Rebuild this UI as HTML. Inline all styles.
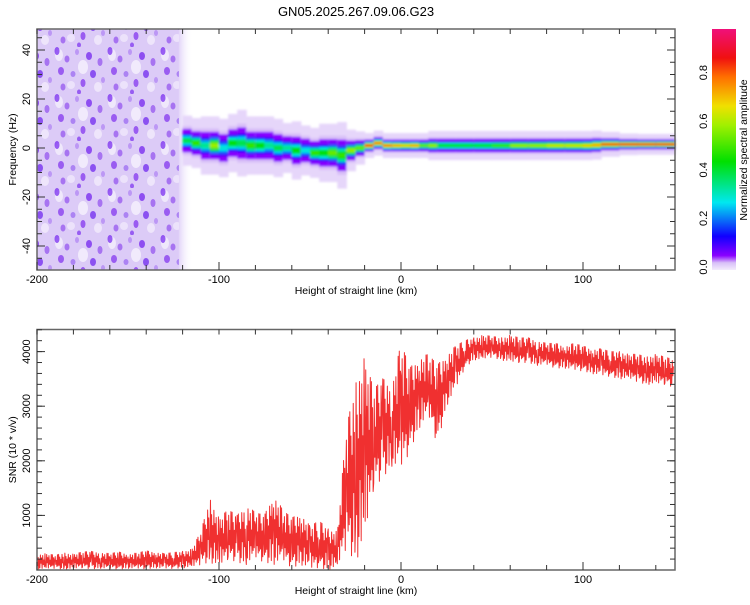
<!DOCTYPE html>
<html><head><meta charset="utf-8"><style>
body{margin:0;background:#fff;width:750px;height:600px;overflow:hidden}
svg text{font-family:"Liberation Sans",sans-serif;fill:#000}
</style></head><body>
<svg id="c" width="750" height="600">
<defs>
<linearGradient id="cb" x1="0" y1="1" x2="0" y2="0">
<stop offset="0" stop-color="#f3ecfc"/><stop offset="0.03" stop-color="#d8bff8"/><stop offset="0.06" stop-color="#8a00ff"/>
<stop offset="0.14" stop-color="#1000ff"/><stop offset="0.28" stop-color="#00e8f0"/><stop offset="0.45" stop-color="#00e000"/>
<stop offset="0.6" stop-color="#a0f000"/><stop offset="0.68" stop-color="#f0e000"/><stop offset="0.8" stop-color="#ff7000"/>
<stop offset="0.88" stop-color="#f01010"/><stop offset="1" stop-color="#f0107a"/></linearGradient>
<pattern id="noise" width="53" height="47" patternUnits="userSpaceOnUse">
<rect width="53" height="47" fill="#dccbf7"/>
<ellipse cx="6" cy="8" rx="4" ry="6" fill="#fff" opacity="0.55"/>
<ellipse cx="30" cy="20" rx="5" ry="7" fill="#fff" opacity="0.6"/>
<ellipse cx="45" cy="40" rx="4" ry="5" fill="#fff" opacity="0.5"/>
<ellipse cx="18" cy="38" rx="4" ry="4" fill="#fff" opacity="0.45"/>
<ellipse cx="4" cy="4" rx="2.5" ry="4" fill="#7a2ef0" opacity="0.75"/>
<ellipse cx="14" cy="12" rx="2.5" ry="3.5" fill="#9a5cf0" opacity="0.8"/>
<ellipse cx="24" cy="5" rx="2" ry="3" fill="#b48af5" opacity="0.8"/>
<ellipse cx="36" cy="9" rx="3" ry="4" fill="#7a2ef0" opacity="0.8"/>
<ellipse cx="47" cy="15" rx="2.5" ry="4" fill="#9a5cf0" opacity="0.8"/>
<ellipse cx="8" cy="24" rx="3" ry="4" fill="#8a40f0" opacity="0.8"/>
<ellipse cx="20" cy="27" rx="2.5" ry="3" fill="#a070f2" opacity="0.8"/>
<ellipse cx="40" cy="27" rx="3" ry="4" fill="#7028ee" opacity="0.75"/>
<ellipse cx="30" cy="36" rx="2.5" ry="4" fill="#8a40f0" opacity="0.8"/>
<ellipse cx="10" cy="40" rx="2.5" ry="3.5" fill="#9a5cf0" opacity="0.8"/>
<ellipse cx="50" cy="33" rx="2" ry="3" fill="#b48af5" opacity="0.8"/>
<ellipse cx="26" cy="45" rx="2" ry="2.5" fill="#7a2ef0" opacity="0.7"/>
</pattern>
<linearGradient id="fadeR" x1="0" x2="1"><stop offset="0" stop-color="#dccbf7"/><stop offset="1" stop-color="#fff" stop-opacity="0"/></linearGradient>
<filter id="blur" x="-5%" y="-50%" width="110%" height="200%"><feGaussianBlur stdDeviation="1.1"/></filter>
</defs>
<text x="356" y="16" font-size="13" text-anchor="middle">GN05.2025.267.09.06.G23</text>
<g id="top"><g id="band" filter="url(#blur)"></g></g>
<g id="bot"></g>
<g id="cbar"></g>
</svg>
<script>
const bandKm=[-120,-115,-110,-105,-100,-95,-90,-85,-80,-75,-70,-65,-60,-55,-50,-45,-40,-35,-30,-25,-20,-15,-10,-5,0,5,10,15,20,30,40,50,60,70,80,90,100,105,110,120,130,140,150];
const bandCenter=[3,2,1,1,0,2,2,1,1,1,0,0,-1,-1,-2,-2,-2,-3,-1,0,1,2,1,1,1,1,1,1,1,1,1,1,1,1,1,1,1,1.2,1.5,1.5,1.5,1.5,1.5];
const bandHalfWidth=[6,6,7,7,7,7,8,7,7,7,7,6,7,6,6,7,7,8,5,4,3,3,3,3,3,3,3,3.5,3.5,3.5,3.5,3.5,3.5,3.5,3.5,3.5,3.5,3.5,3,2.6,2.5,2.5,2.5];
const bandPeak=[0.4,0.5,0.35,0.6,0.3,0.45,0.4,0.5,0.45,0.35,0.4,0.35,0.45,0.3,0.5,0.45,0.55,0.5,0.6,0.55,0.85,0.8,0.8,0.75,0.7,0.75,0.55,0.6,0.45,0.45,0.45,0.5,0.6,0.6,0.65,0.65,0.7,0.75,0.85,0.9,0.9,0.9,0.9];
const snrKm=[-200,-195,-190,-185,-180,-175,-170,-165,-160,-155,-150,-145,-140,-135,-130,-125,-120,-115,-110,-105,-100,-95,-90,-85,-80,-75,-70,-65,-60,-55,-50,-45,-40,-35,-30,-25,-20,-15,-10,-5,0,5,10,15,20,25,30,35,40,45,50,55,60,65,70,75,80,85,90,95,100,105,110,115,120,125,130,135,140,145,150];
const snrHi=[280,300,270,310,290,330,340,320,300,330,290,310,350,330,300,320,340,380,700,1300,950,1100,1000,1200,1050,1000,1400,1100,950,1050,800,900,750,700,2600,3400,3900,3300,3500,3400,4150,3700,3900,3950,3750,3950,4100,4200,4250,4300,4280,4250,4300,4250,4250,4200,4150,4150,4100,4150,4100,4050,4050,4000,4000,3950,3950,3900,3950,3900,3850];
const snrLo=[10,20,30,10,20,40,20,30,20,10,30,20,20,40,20,30,40,50,100,150,50,200,150,100,200,150,100,150,50,100,0,50,0,50,400,150,500,1500,1700,1900,1800,2200,2600,2800,2300,3000,3300,3700,3850,3850,3900,3850,3800,3800,3800,3750,3750,3700,3700,3650,3650,3600,3550,3550,3500,3500,3450,3400,3400,3400,3350];
const xTicksLabels=[-200,-100,0,100];
const fTicksLabels=[-40,-20,0,20,40];
const snrTicksLabels=[1000,2000,3000,4000];
const cbTicksLabels=[0.0,0.2,0.4,0.6,0.8];

const NS='http://www.w3.org/2000/svg';
function mk(p,t,a){const e=document.createElementNS(NS,t);for(const k in a)e.setAttribute(k,a[k]);p.appendChild(e);return e;}
const X=km=>37+(km+200)*1.82;
const YF=f=>148-f*2.45;
const YS=v=>570-v*0.0546;
function cmap(v){
 const s=[[0,[243,236,252]],[0.03,[216,191,248]],[0.06,[138,0,255]],[0.14,[16,0,255]],[0.28,[0,232,240]],[0.45,[0,224,0]],[0.6,[160,240,0]],[0.68,[240,224,0]],[0.8,[255,112,0]],[0.88,[240,16,16]],[1,[240,16,122]]];
 for(let i=1;i<s.length;i++){if(v<=s[i][0]){const t=(v-s[i-1][0])/(s[i][0]-s[i-1][0]);const a=s[i-1][1],b=s[i][1];return 'rgb('+a.map((c,j)=>Math.round(c+(b[j]-c)*t)).join(',')+')';}}
 return 'rgb(240,16,122)';
}
const gTop=document.getElementById('top'),gBand=document.getElementById('band'),gBot=document.getElementById('bot'),gCb=document.getElementById('cbar');
let nz=mk(gTop,'rect',{x:37,y:29,width:X(-122)-37,height:241,fill:'url(#noise)'});


gTop.insertBefore(nz,gBand);
let nf=mk(gTop,'rect',{x:X(-122),y:29,width:14,height:241,fill:'url(#fadeR)',opacity:0.8});


gTop.insertBefore(nf,gBand);
const layers=[[1.7,0.015],[1.0,0.03],[0.8,0.06],[0.62,0.15],[0.48,0.35],[0.34,0.65],[0.2,0.9],[0.1,1.0]];
for(let i=0;i<bandKm.length;i++){
 const k0=bandKm[i],k1=i<bandKm.length-1?bandKm[i+1]:bandKm[i]+5;
 const x0=X(k0),x1=Math.min(X(k1),675);
 for(const [wf,af] of layers){
  let v=af<=0.06?af:Math.max(0.06,bandPeak[i]*af);
  if(af>=0.35&&bandPeak[i]*af<0.1)continue;
  const hw=bandHalfWidth[i]*wf;
  const r=mk(gBand,'rect',{x:x0,y:YF(bandCenter[i]+hw),width:x1-x0+0.5,height:hw*2*2.45,fill:cmap(v)});
  
  
 }
}
function frame(g,yTop,yBot,yTicksMinor,yfn,ylabels,ytitle){
 const f=mk(g,'rect',{x:37,y:yTop,width:638,height:yBot-yTop,fill:'none',stroke:'#666','stroke-width':1.5});
 
 for(let k=-200;k<=150;k+=20){const x=X(k);mk(g,'line',{x1:x,x2:x,y1:yBot,y2:yBot-5,stroke:'#333'});mk(g,'line',{x1:x,x2:x,y1:yTop,y2:yTop+5,stroke:'#333'});}
 for(const k of xTicksLabels){const x=X(k);mk(g,'line',{x1:x,x2:x,y1:yBot,y2:yBot-8,stroke:'#333'});
  const t=mk(g,'text',{x:x,y:yBot+13,'font-size':11,'text-anchor':'middle'});t.textContent=k;}
 const xt=mk(g,'text',{x:356,y:yBot+24,'font-size':10.5,'text-anchor':'middle'});xt.textContent='Height of straight line (km)';
 
 for(const v of yTicksMinor){const y=yfn(v);mk(g,'line',{x1:37,x2:42,y1:y,y2:y,stroke:'#333'});mk(g,'line',{x1:675,x2:670,y1:y,y2:y,stroke:'#333'});}
 for(const v of ylabels){const y=yfn(v);mk(g,'line',{x1:37,x2:45,y1:y,y2:y,stroke:'#333'});mk(g,'line',{x1:675,x2:667,y1:y,y2:y,stroke:'#333'});
  const t=mk(g,'text',{x:0,y:0,'font-size':11,'text-anchor':'middle',transform:`translate(30,${y}) rotate(-90)`});t.textContent=v;
  }
 const yt=mk(g,'text',{x:0,y:0,'font-size':10.5,'text-anchor':'middle',transform:`translate(16,${(yTop+yBot)/2}) rotate(-90)`});yt.textContent=ytitle;
 
}
const fm=[];for(let v=-45;v<=45;v+=5)fm.push(v);
frame(gTop,29,270,fm,YF,fTicksLabels,'Frequency (Hz)');
let pts=[];
const zig=[1,-0.5,0.6,-1,0.3,-0.8,0.9,-0.2,0.5,-0.9,0.8,-0.4,0.2,-0.7,1,-0.6];
const N=16;
for(let i=0;i<snrKm.length-1;i++){
 for(let s=0;s<N;s++){const t=s/N;const k=snrKm[i]+t*5;
  const hi=snrHi[i]+(snrHi[i+1]-snrHi[i])*t,lo=snrLo[i]+(snrLo[i+1]-snrLo[i])*t;
  const mid=(hi+lo)/2,amp=(hi-lo)/2;const f=zig[(s+i*5)%N];
  pts.push(X(k).toFixed(2)+','+YS(mid+amp*f).toFixed(1));}
}
const li=mk(gBot,'polyline',{points:pts.join(' '),fill:'none',stroke:'#f03030','stroke-width':1,'stroke-linejoin':'round'});

const sm=[];for(let v=200;v<=4400;v+=200)sm.push(v);
frame(gBot,329.5,570,sm,YS,snrTicksLabels,'SNR (10 * v/v)');
const cr=mk(gCb,'rect',{x:712,y:29,width:24,height:241,fill:'url(#cb)'});

const YC=v=>267-v*243;
for(const v of cbTicksLabels){const y=YC(v);const t=mk(gCb,'text',{x:0,y:0,'font-size':11,'text-anchor':'middle',transform:`translate(707,${y}) rotate(-90)`});t.textContent=v.toFixed(1);
 }
const ct=mk(gCb,'text',{x:0,y:0,'font-size':10.5,'text-anchor':'middle',transform:'translate(747,150) rotate(-90)'});ct.textContent='Normalized spectral amplitude';

</script>
</body></html>
